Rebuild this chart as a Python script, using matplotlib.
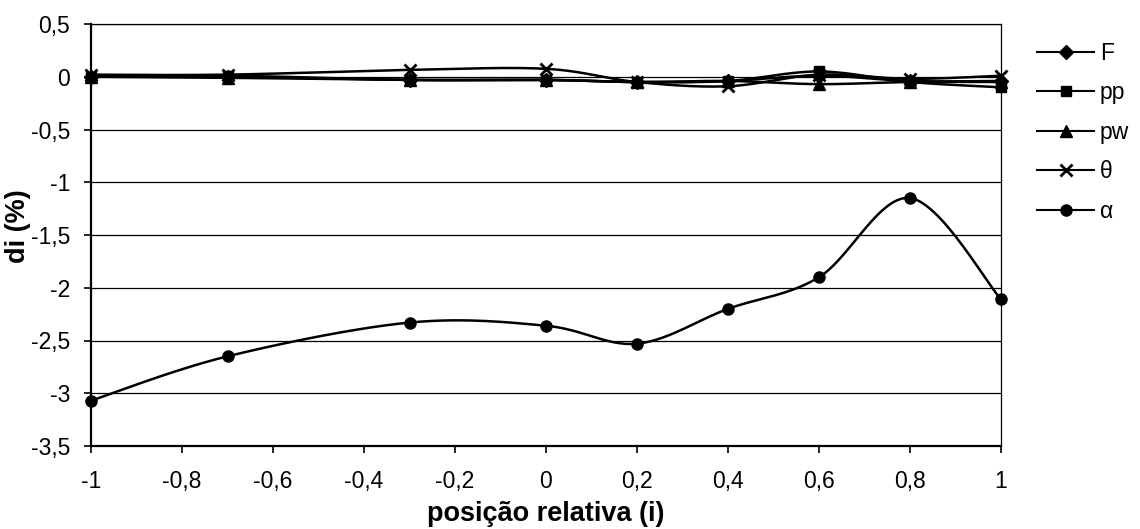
import numpy as np
import matplotlib
matplotlib.use("Agg")
import matplotlib.pyplot as plt

plt.rcParams['font.family'] = ['Liberation Sans', 'DejaVu Sans']

# Relative position along the specimen
positions = [-1.0, -0.7, -0.3, 0.0, 0.2, 0.4, 0.6, 0.8, 1.0]

# Deviation di (%) for each parameter
di_F = [0.0, 0.00, -0.03, -0.03, -0.05, -0.04, 0.01, -0.04, -0.04]
di_pp = [0.0, 0.01, -0.03, -0.03, -0.05, -0.04, 0.05, -0.05, -0.10]
di_pw = [0.0, -0.01, -0.03, -0.03, -0.05, -0.04, -0.07, -0.05, -0.05]
di_theta = [0.02, 0.02, 0.065, 0.075, -0.05, -0.09, 0.02, -0.02, 0.01]
di_alpha = [-3.07, -2.65, -2.33, -2.36, -2.53, -2.20, -1.90, -1.15, -2.11]

series_labels = ['F', 'pp', 'pw', 'θ', 'α']
x_ticks = [-1, -0.8, -0.6, -0.4, -0.2, 0, 0.2, 0.4, 0.6, 0.8, 1]
y_ticks = [0.5, 0, -0.5, -1, -1.5, -2, -2.5, -3, -3.5]


def fmt(v):
    s = ('%g' % v).replace('.', ',')
    return '0' if s in ('-0', '0') else s


def smooth(xs, ys, sx, sy, n=30):
    """Catmull-Rom curve through the points, computed in screen-like units."""
    p = np.column_stack([np.asarray(xs) * sx, np.asarray(ys) * sy])
    ext = np.vstack([p[0], p, p[-1]])
    out = []
    for i in range(1, len(ext) - 2):
        p0, p1, p2, p3 = ext[i - 1], ext[i], ext[i + 1], ext[i + 2]
        c1 = p1 + (p2 - p0) / 6.0
        c2 = p2 - (p3 - p1) / 6.0
        t = np.linspace(0, 1, n)[:, None]
        seg = ((1 - t) ** 3) * p1 + 3 * ((1 - t) ** 2) * t * c1 \
            + 3 * (1 - t) * t ** 2 * c2 + t ** 3 * p2
        out.append(seg if i == 1 else seg[1:])
    c = np.vstack(out)
    return c[:, 0] / sx, c[:, 1] / sy


fig = plt.figure(figsize=(11.4, 5.29), dpi=100)
ax = fig.add_axes([91 / 1140, 1 - 446 / 529, (1001 - 91) / 1140, (446 - 24) / 529])

ax.set_xlim(-1, 1)
ax.set_ylim(-3.5, 0.5)

# pixel scale factors for smoothing (x: px per unit, y: px per unit)
sx, sy = 910 / 2.0, 422 / 4.0

styles = [
    dict(marker='D', ms=7),
    dict(marker='s', ms=7),
    dict(marker='^', ms=8),
    dict(marker='x', ms=9, mew=2),
    dict(marker='o', ms=8),
]
data = [di_F, di_pp, di_pw, di_theta, di_alpha]

for ys, lab, st in zip(data, series_labels, styles):
    cx, cy = smooth(positions, ys, sx, sy)
    ax.plot(cx, cy, color='black', lw=1.8, zorder=3, clip_on=False)
    ax.plot(positions, ys, linestyle='none', color='black', zorder=4,
            clip_on=False, **st)
    ax.plot([], [], color='black', lw=1.5, label=lab, **st)

ax.set_yticks(y_ticks)
ax.set_yticklabels([fmt(v) for v in y_ticks])
ax.set_xticks(x_ticks)
ax.set_xticklabels([fmt(v) for v in x_ticks])
ax.yaxis.grid(True, color='black', lw=0.9)
ax.set_axisbelow(True)

ax.tick_params(axis='both', direction='out', length=5, width=1.2,
               labelsize=16.5, colors='black')
ax.tick_params(axis='y', pad=10)
ax.tick_params(axis='x', pad=12)

for side in ('left', 'bottom'):
    ax.spines[side].set_linewidth(1.6)
for side in ('top', 'right'):
    ax.spines[side].set_linewidth(0.9)

ax.set_xlabel('posição relativa (i)', fontsize=19.5, fontweight='bold', labelpad=6)
ax.set_ylabel('di (%)', fontsize=19.5, fontweight='bold')
ax.yaxis.set_label_coords(-0.066, 0.52)

fig.legend(loc='upper left', bbox_to_anchor=(1037 / 1140, 1 - 42 / 529),
           frameon=False, fontsize=16.5, handlelength=2.5, handletextpad=0.25,
           labelspacing=0.72, borderpad=0, borderaxespad=0)

fig.savefig('out.png', dpi=100)
